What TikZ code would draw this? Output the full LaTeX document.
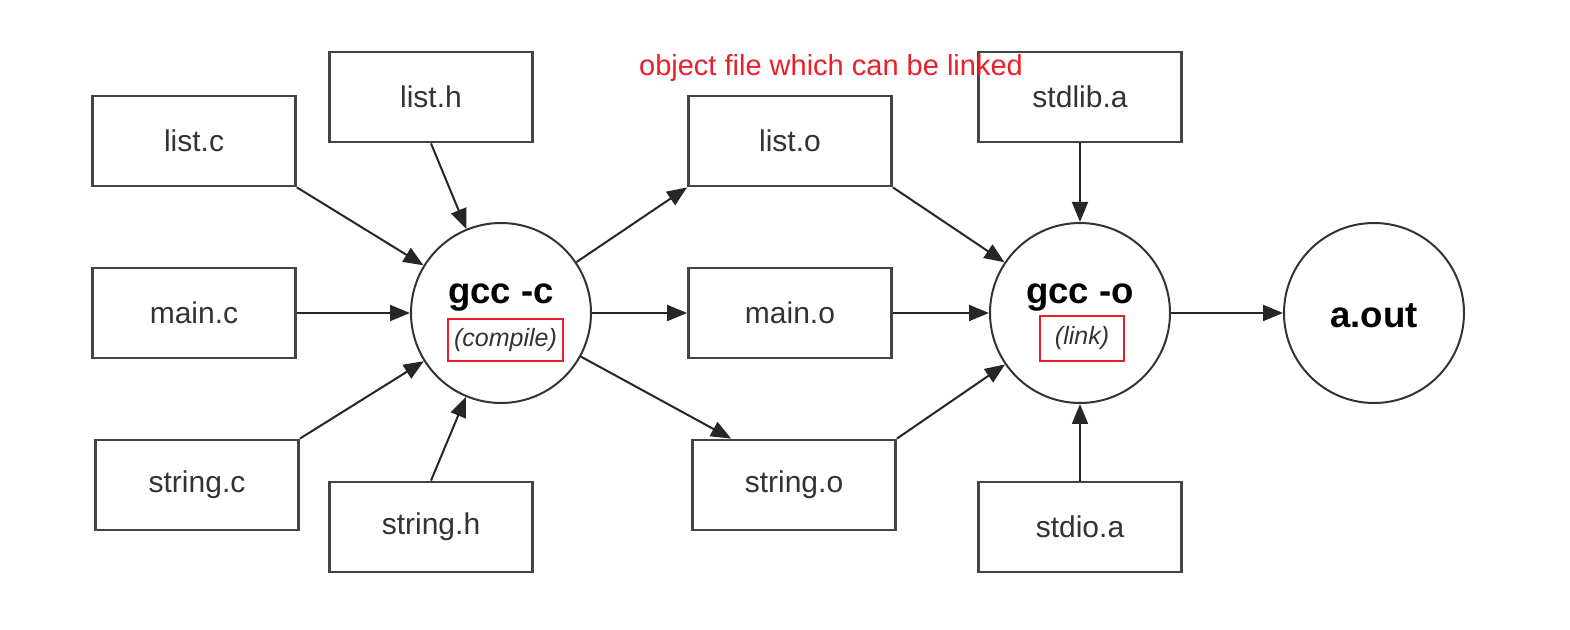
\documentclass[tikz,border=0pt]{standalone}
\usepackage{fontspec}
\setmainfont{Liberation Sans}
\usetikzlibrary{arrows.meta, positioning, calc}

\definecolor{ink}{HTML}{333333}
\definecolor{edge}{HTML}{444444}
\definecolor{mark}{HTML}{E8202A}

\tikzset{
  file/.style={draw=edge, line width=1.4pt, fill=white, minimum width=101.5pt, minimum height=45pt,
    inner sep=0pt, text=ink, font=\fontsize{15pt}{17pt}\selectfont},
  proc/.style={draw=black!80, circle, line width=1pt, minimum size=90pt, inner sep=0pt},
  cmd/.style={text=black, font=\fontsize{18.3pt}{20pt}\selectfont\bfseries, inner sep=0pt},
  hint/.style={draw=mark, line width=1pt, text=ink, inner sep=0pt,
    font=\fontsize{12.5pt}{14pt}\selectfont\itshape},
  arr/.style={draw=black!85, line width=1pt, -{Triangle[length=10pt,width=8pt]}}
}

\begin{document}
\begin{tikzpicture}[x=0.5pt,y=-0.5pt]
  \useasboundingbox (0,0) rectangle (1570,630);

  % source and object files
  \foreach \n/\x/\y/\t in {listc/194/141/list.c, listh/431/97/list.h, mainc/194/313/main.c,
      stringc/197/485/string.c, stringh/431/527/string.h,
      listo/790/141/list.o, maino/790/313/main.o, stringo/794/485/string.o,
      stdlib/1080/97/stdlib.a, stdio/1080/527/stdio.a} {
    \node[file] (\n) at (\x,\y) {\t};
  }

  % compile, link and result
  \node[proc] (gccc) at (501,313) {};
  \node[cmd] (gcccT) at (501,298) {gcc -c};
  \node[hint, minimum width=57.5pt, minimum height=21pt] (gcccN) at (505.5,340) {(compile)};

  \node[proc] (gcco) at (1080,313) {};
  \node[cmd] (gccoT) at (1080,298) {gcc -o};
  \node[hint, minimum width=42pt, minimum height=22.5pt] (gccoN) at (1082,338.5) {(link)};

  \node[proc] (aout) at (1374,313) {};
  \node[cmd] (aoutT) at (1374,316) {a.out};

  \node[text=mark, font=\fontsize{14.5pt}{16pt}\selectfont, inner sep=0pt] (objnote) at (831,68)
    {object file which can be linked};

  % arrows
  \foreach \a/\b in {listc.south east/gccc, listh.south/gccc, mainc.east/gccc.west,
      stringc.north east/gccc, stringh.north/gccc,
      gccc.east/maino.west, listo.south east/gcco, maino.east/gcco.west,
      stringo.north east/gcco, stdlib.south/gcco.north, stdio.north/gcco.south,
      gcco.east/aout.west} {
    \draw[arr] (\a) -- (\b);
  }
  \draw[arr] (gccc) -- (listo.south west);
  \draw[arr] (gccc) -- ([xshift=20pt]stringo.north west);

\end{tikzpicture}
\end{document}
